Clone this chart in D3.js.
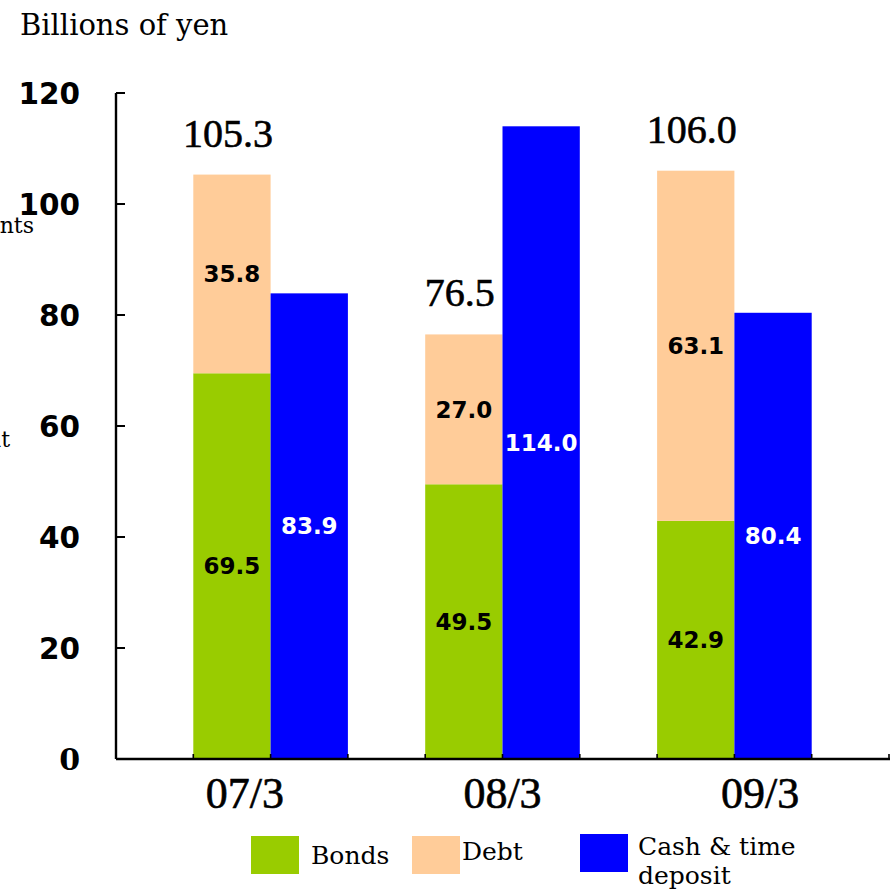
<!DOCTYPE html>
<html>
<head>
<meta charset="utf-8">
<script src="https://cdn.jsdelivr.net/npm/d3@7"></script>
<style>
  html, body { margin: 0; padding: 0; background: #fff; }
  svg { display: block; }
</style>
</head>
<body>
<svg id="chart" width="895" height="889"></svg>
<script>
// ---- data ----
const categories = ["07/3", "08/3", "09/3"];
const bonds = [69.5, 49.5, 42.9];
const debt = [35.8, 27.0, 63.1];
const cash = [83.9, 114.0, 80.4];
const totals = ["105.3", "76.5", "106.0"];
const yTicks = [0, 20, 40, 60, 80, 100, 120];
const legendLabels = ["Bonds", "Debt", "Cash & time deposit"];
const sideLabels = ["Investments", "deposit"];

const colors = { bonds: "#99CC00", debt: "#FFCC99", cash: "#0000FF" };

const svg = d3.select("#chart");

const y = d3.scaleLinear().domain([0, 120]).range([759, 93]);
// x: ten bar-width slots across the axis
const x = d3.scaleLinear().domain([0, 10]).range([116, 889]);
const band = d3.scaleBand().domain(categories).range([116, 889]);

// ---- side labels (cut off at the left edge, as in the original) ----
svg.append("text").attr("x", 34).attr("y", 233).attr("text-anchor", "end")
  .attr("font-family", "DejaVu Serif").attr("font-size", 22).text(sideLabels[0]);
svg.append("text").attr("x", 10).attr("y", 447).attr("text-anchor", "end")
  .attr("font-family", "DejaVu Serif").attr("font-size", 22).text(sideLabels[1]);

// ---- title ----
svg.append("text").attr("x", 20).attr("y", 35)
  .attr("font-family", "DejaVu Serif").attr("font-size", 29)
  .text("Billions of yen");

// ---- bars ----
const rows = categories.map((c, i) => ({
  cat: c, i, bonds: bonds[i], debt: debt[i], cash: cash[i], total: totals[i]
}));

const g = svg.append("g");
g.selectAll("rect.bonds").data(rows).enter().append("rect")
  .attr("x", d => x(1 + 3 * d.i)).attr("width", d => x(2 + 3 * d.i) - x(1 + 3 * d.i))
  .attr("y", d => y(d.bonds)).attr("height", d => y(0) - y(d.bonds))
  .attr("fill", colors.bonds);
g.selectAll("rect.debt").data(rows).enter().append("rect")
  .attr("x", d => x(1 + 3 * d.i)).attr("width", d => x(2 + 3 * d.i) - x(1 + 3 * d.i))
  .attr("y", d => y(d.bonds + d.debt)).attr("height", d => y(d.bonds) - y(d.bonds + d.debt))
  .attr("fill", colors.debt);
g.selectAll("rect.cash").data(rows).enter().append("rect")
  .attr("x", d => x(2 + 3 * d.i)).attr("width", d => x(3 + 3 * d.i) - x(2 + 3 * d.i))
  .attr("y", d => y(d.cash)).attr("height", d => y(0) - y(d.cash))
  .attr("fill", colors.cash);

// ---- value labels ----
function segLabel(v, lo, hi, col, fill) {
  g.append("text")
    .attr("x", (x(col) + x(col + 1)) / 2)
    .attr("y", (y(lo) + y(hi)) / 2)
    .attr("dy", "0.36em")
    .attr("text-anchor", "middle")
    .attr("font-family", "DejaVu Sans").attr("font-weight", "bold").attr("font-size", 23)
    .attr("fill", fill)
    .text(v.toFixed(1));
}
rows.forEach(d => {
  segLabel(d.bonds, 0, d.bonds, 1 + 3 * d.i, "#000");
  segLabel(d.debt, d.bonds, d.bonds + d.debt, 1 + 3 * d.i, "#000");
  segLabel(d.cash, 0, d.cash, 2 + 3 * d.i, "#fff");
  g.append("text")
    .attr("x", (x(1 + 3 * d.i) + x(2 + 3 * d.i)) / 2 - 4)
    .attr("y", y(d.bonds + d.debt) - 28)
    .attr("text-anchor", "middle")
    .attr("font-family", "Liberation Serif").attr("font-size", 40)
    .attr("stroke", "#000").attr("stroke-width", 0.6)
    .text(d.total);
});

// ---- axes ----
const axisG = svg.append("g");
axisG.append("line").attr("x1", 116).attr("x2", 116).attr("y1", y(120)).attr("y2", y(0))
  .attr("stroke", "#000").attr("stroke-width", 2.4);
axisG.selectAll("line.yt").data(yTicks).enter().append("line")
  .attr("x1", 116).attr("x2", 125).attr("y1", d => y(d)).attr("y2", d => y(d))
  .attr("stroke", "#000").attr("stroke-width", 2);
axisG.selectAll("text.yt").data(yTicks).enter().append("text")
  .attr("x", 80).attr("y", d => y(d)).attr("dy", "0.36em")
  .attr("text-anchor", "end")
  .attr("font-family", d => d === 0 ? "DejaVu Serif" : "DejaVu Sans")
  .attr("font-weight", "bold")
  .attr("font-size", d => d === 0 ? 30 : 29.5)
  .text(d => d);

axisG.append("line").attr("x1", 116).attr("x2", 890).attr("y1", y(0)).attr("y2", y(0))
  .attr("stroke", "#000").attr("stroke-width", 2.4);
axisG.selectAll("line.xt").data(d3.range(1, 11)).enter().append("line")
  .attr("x1", d => x(d)).attr("x2", d => x(d)).attr("y1", y(0)).attr("y2", y(0) - 5)
  .attr("stroke", "#000").attr("stroke-width", 1.6);
axisG.selectAll("text.xl").data(categories).enter().append("text")
  .attr("x", d => band(d) + band.bandwidth() / 2)
  .attr("y", 808)
  .attr("text-anchor", "middle")
  .attr("font-family", "Liberation Serif").attr("font-size", 44)
  .attr("stroke", "#000").attr("stroke-width", 0.6)
  .text(d => d);

// ---- legend ----
const legend = [
  { label: legendLabels[0], color: colors.bonds, sx: 251, sy: 836, tx: 311, ty: 864 },
  { label: legendLabels[1], color: colors.debt, sx: 412, sy: 836, tx: 462, ty: 860 },
  { label: legendLabels[2], color: colors.cash, sx: 580, sy: 834, tx: 638, ty: 855 }
];
const lg = svg.append("g");
legend.forEach(l => {
  lg.append("rect").attr("x", l.sx).attr("y", l.sy).attr("width", 48).attr("height", 38)
    .attr("fill", l.color);
  const t = lg.append("text").attr("x", l.tx).attr("y", l.ty)
    .attr("font-family", "DejaVu Serif").attr("font-size", 25);
  if (l.label === "Cash & time deposit") {
    t.append("tspan").attr("x", l.tx).text("Cash & time");
    t.append("tspan").attr("x", l.tx).attr("dy", 29).text("deposit");
  } else {
    t.text(l.label);
  }
});
</script>
</body>
</html>
